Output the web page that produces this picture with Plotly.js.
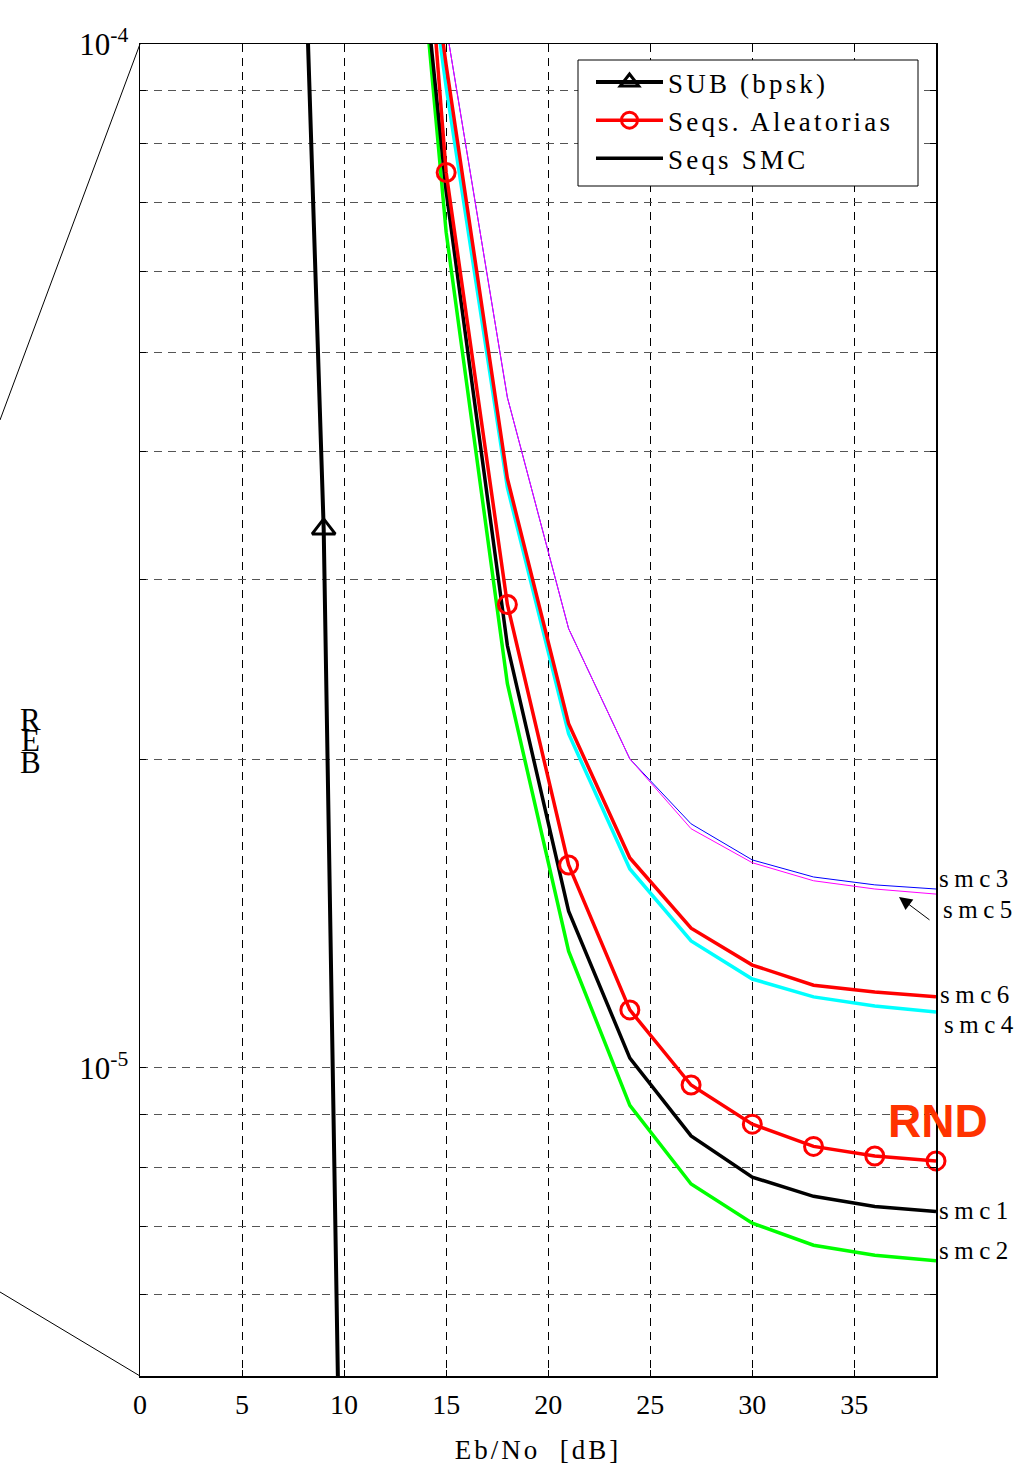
<!DOCTYPE html>
<html><head><meta charset="utf-8">
<script src="https://cdn.plot.ly/plotly-3.0.1.min.js"></script>
<style>
html,body{margin:0;padding:0;background:#fff}
.legendtext{letter-spacing:3.2px}
.xtitle{letter-spacing:3px}
</style>
</head><body>
<div id="chart" style="width:1022px;height:1465px"></div>
<script>
// ---- data ----
const ebno = [12, 15, 18, 21, 24, 27, 30, 33, 36, 39];
const bpskX = [0, 3, 6, 9, 12];
const bpskY = [7.86e-2, 2.29e-2, 2.39e-3, 3.36e-5, 9.0e-9];
const rnd  = [4.35e-4, 7.49e-5, 2.835e-5, 1.578e-5, 1.139e-5, 9.62e-6, 8.81e-6, 8.38e-6, 8.20e-6, 8.11e-6];
const smc1 = [2.76e-4, 7.18e-5, 2.585e-5, 1.422e-5, 1.022e-5, 8.58e-6, 7.82e-6, 7.49e-6, 7.32e-6, 7.24e-6];
const smc2 = [3.0e-4, 6.55e-5, 2.372e-5, 1.30e-5, 9.19e-6, 7.70e-6, 7.05e-6, 6.71e-6, 6.56e-6, 6.48e-6];
const smc3 = [3.0e-4, 1.041e-4, 4.516e-5, 2.685e-5, 2.003e-5, 1.731e-5, 1.596e-5, 1.536e-5, 1.509e-5, 1.495e-5];
const smc4 = [2.5e-4, 9.08e-5, 3.688e-5, 2.12e-5, 1.564e-5, 1.33e-5, 1.221e-5, 1.173e-5, 1.149e-5, 1.134e-5];
const smc5 = [3.0e-4, 1.041e-4, 4.516e-5, 2.685e-5, 2.003e-5, 1.712e-5, 1.586e-5, 1.523e-5, 1.495e-5, 1.478e-5];
const smc6 = [2.62e-4, 9.54e-5, 3.764e-5, 2.168e-5, 1.603e-5, 1.369e-5, 1.260e-5, 1.204e-5, 1.186e-5, 1.173e-5];
const yTickVals = [5e-6, 6e-6, 7e-6, 8e-6, 9e-6, 1e-5, 2e-5, 3e-5, 4e-5, 5e-5, 6e-5, 7e-5, 8e-5, 9e-5, 1e-4];
const yTickText = ['', '', '', '', '', '10<sup>-5</sup>', '', '', '', '', '', '', '', '', '10<sup>-4</sup>'];
const legendNames = ['SUB (bpsk)', 'Seqs. Aleatorias', 'Seqs SMC'];
const curveLabels = ['smc3', 'smc5', 'smc6', 'smc4', 'smc1', 'smc2'];

// ---- layout helpers (pixel -> paper) ----
const PX = p => (p - 140) / 796;
const PY = p => 1 - (p - 44) / 1332;
const SERIF = 'Liberation Serif, Times New Roman, serif';

const thin = (y, c) => ({x: ebno, y: y, mode: 'lines', line: {color: c, width: 1}, showlegend: false, hoverinfo: 'skip'});
const thick = (y, c) => ({x: ebno, y: y, mode: 'lines', line: {color: c, width: 3.5}, showlegend: false, hoverinfo: 'skip'});

const traces = [
  thin(smc3, '#0000ff'),
  thin(smc5, '#ff00ff'),
  thick(smc4, '#00ffff'),
  thick(smc6, '#ff0000'),
  thick(smc2, '#00ff00'),
  Object.assign(thick(smc1, '#000000'), {name: legendNames[2], showlegend: true, legendrank: 3, legendgroup: 'c'}),
  {x: ebno.slice(0, 2), y: rnd.slice(0, 2), mode: 'lines', line: {color: '#ff0000', width: 3.5}, showlegend: false, hoverinfo: 'skip'},
  {x: ebno.slice(1), y: rnd.slice(1), name: legendNames[1], mode: 'lines+markers', legendrank: 2, legendgroup: 'b',
   line: {color: '#ff0000', width: 3.5}, cliponaxis: false,
   marker: {symbol: 'circle-open', size: 18, color: '#ff0000', line: {width: 3}}},
  {x: bpskX, y: bpskY, name: legendNames[0], mode: 'lines+markers', legendrank: 1, legendgroup: 'a',
   line: {color: '#000000', width: 4}, cliponaxis: false,
   marker: {symbol: 'triangle-up-open', size: 20, color: '#000000', line: {width: 3}}}
];

const labelAnn = (t, xp, yp) => ({text: '<span style="letter-spacing:5.5px">' + t + '</span>', xref: 'paper', yref: 'paper',
  x: PX(xp), y: PY(yp), xanchor: 'left', yanchor: 'middle', showarrow: false, font: {family: SERIF, size: 25, color: '#000'}});
const letter = (t, yp) => ({text: t, xref: 'paper', yref: 'paper', x: PX(30), y: PY(yp), xanchor: 'center', yanchor: 'middle',
  showarrow: false, font: {family: SERIF, size: 31, color: '#000'}});

const annotations = [
  labelAnn(curveLabels[0], 937, 878),
  labelAnn(curveLabels[1], 941, 910),
  labelAnn(curveLabels[2], 938, 994),
  labelAnn(curveLabels[3], 942, 1024),
  labelAnn(curveLabels[4], 937, 1210),
  labelAnn(curveLabels[5], 937, 1250),
  {text: '<b>RND</b>', xref: 'paper', yref: 'paper', x: PX(938), y: PY(1121), xanchor: 'center', yanchor: 'middle', showarrow: false,
   font: {family: 'Liberation Sans, Arial, sans-serif', size: 46, color: '#ff3300'}},
  {text: '', xref: 'paper', yref: 'paper', x: PX(899), y: PY(897), showarrow: true, ax: 32, ay: 24,
   arrowhead: 2, arrowsize: 2.6, arrowwidth: 1, arrowcolor: '#000'},
  letter('R', 719), letter('E', 741), letter('B', 762)
];

const shapes = [
  {type: 'line', xref: 'paper', yref: 'paper', x0: 0, y0: 1, x1: PX(0), y1: PY(420), line: {color: '#000', width: 1}},
  {type: 'line', xref: 'paper', yref: 'paper', x0: 0, y0: 0, x1: PX(0), y1: PY(1292), line: {color: '#000', width: 1}},
  // legend frame
  {type: 'rect', xref: 'paper', yref: 'paper', layer: 'above', x0: PX(578), x1: PX(918), y0: PY(60), y1: PY(186),
   fillcolor: '#fff', line: {color: '#000', width: 1}}
];

const layout = {
  width: 1022, height: 1465,
  margin: {l: 140, r: 86, t: 44, b: 89},
  paper_bgcolor: '#fff', plot_bgcolor: '#fff',
  font: {family: SERIF, size: 27, color: '#000'},
  showlegend: true,
  legend: {x: PX(591), y: PY(58), xanchor: 'left', yanchor: 'top', bgcolor: 'rgba(0,0,0,0)', borderwidth: 0,
           font: {family: SERIF, size: 27, color: '#000'}, tracegroupgap: 4, itemwidth: 67, traceorder: 'normal'},
  xaxis: {range: [0, 39], tick0: 0, dtick: 5, ticks: 'inside', ticklen: 6, tickcolor: '#000', tickwidth: 1,
          showline: true, linecolor: '#000', linewidth: 1.5, mirror: 'ticks',
          showgrid: true, gridcolor: '#000', gridwidth: 1, griddash: '8px,6px', zeroline: false,
          tickfont: {family: SERIF, size: 28}, ticklabelstandoff: 3,
          title: {text: 'Eb/No\u00a0\u00a0[dB]', font: {family: SERIF, size: 27}}},
  yaxis: {type: 'log', range: [Math.log10(5e-6), -4], tickmode: 'array', tickvals: yTickVals, ticktext: yTickText,
          ticks: 'inside', ticklen: 6, tickcolor: '#000', tickwidth: 1,
          showline: true, linecolor: '#000', linewidth: 1.5, mirror: 'ticks',
          showgrid: true, gridcolor: '#555', gridwidth: 1, griddash: '8px,6px', zeroline: false,
          tickfont: {family: SERIF, size: 31}, ticklabelstandoff: 4},
  annotations: annotations,
  shapes: shapes
};

Plotly.newPlot('chart', traces, layout, {staticPlot: true, displayModeBar: false});
</script>
</body></html>
